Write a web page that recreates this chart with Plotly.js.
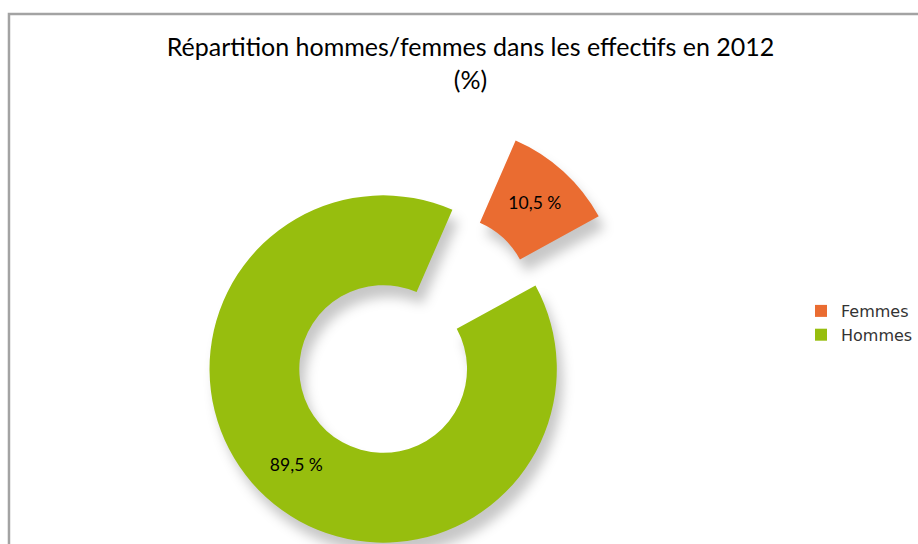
<!DOCTYPE html>
<html><head><meta charset="utf-8">
<script src="https://cdn.plot.ly/plotly-3.0.1.min.js"></script>
<style>
html,body{margin:0;padding:0;overflow:hidden;background:#fff;width:918px;height:544px;}
#chart{width:918px;height:640px;}
.pielayer path.surface{filter:drop-shadow(6px 12px 6px rgba(0,0,0,0.22));}
</style></head><body><div id="chart"></div>
<script>
// Data
const categories = ['Femmes', 'Hommes'];
const values = [10.5, 89.5];
const sliceTexts = ['10,5 %', '89,5 %'];
const colors = ['#EA6C31', '#97BE0E'];
const pulls = [0.54, 0];

const W = 918, H = 640;

const trace = {
  type: 'pie',
  labels: categories,
  values: values,
  text: sliceTexts,
  texttemplate: '%{text}',
  textposition: 'inside',
  insidetextorientation: 'horizontal',
  textfont: {family: 'Lato, sans-serif', size: 17.5, color: '#000'},
  marker: {colors: colors, line: {width: 0}},
  pull: pulls,
  hole: 0.483,
  sort: false,
  direction: 'clockwise',
  rotation: 23.5,
  hoverinfo: 'none',
  domain: {x: [116 / W, 652 / W], y: [1 - 637 / H, 1 - 101 / H]}
};

const layout = {
  width: W, height: H,
  margin: {l: 0, r: 0, t: 0, b: 0},
  paper_bgcolor: '#fff',
  title: {
    text: 'Répartition hommes/femmes dans les effectifs en 2012<br>(%)',
    font: {family: 'Lato, sans-serif', size: 25, color: '#000'},
    x: 470.5 / W, xanchor: 'center', xref: 'container',
    y: 1 - 56 / H, yanchor: 'top', yref: 'container'
  },
  showlegend: true,
  legend: {
    x: 803 / W, xanchor: 'left',
    y: 1 - 323 / H, yanchor: 'middle',
    font: {family: 'DejaVu Sans, sans-serif', size: 16, color: '#333'},
    bgcolor: 'rgba(0,0,0,0)'
  },
  shapes: [{
    type: 'rect', xref: 'paper', yref: 'paper',
    x0: 9 / W, x1: 1.02, y0: -0.02, y1: 1 - 14 / H,
    line: {color: '#A3A3A3', width: 2.5}, fillcolor: 'rgba(0,0,0,0)', layer: 'below'
  }]
};

Plotly.newPlot('chart', [trace], layout, {displayModeBar: false, staticPlot: true});
</script></body></html>
